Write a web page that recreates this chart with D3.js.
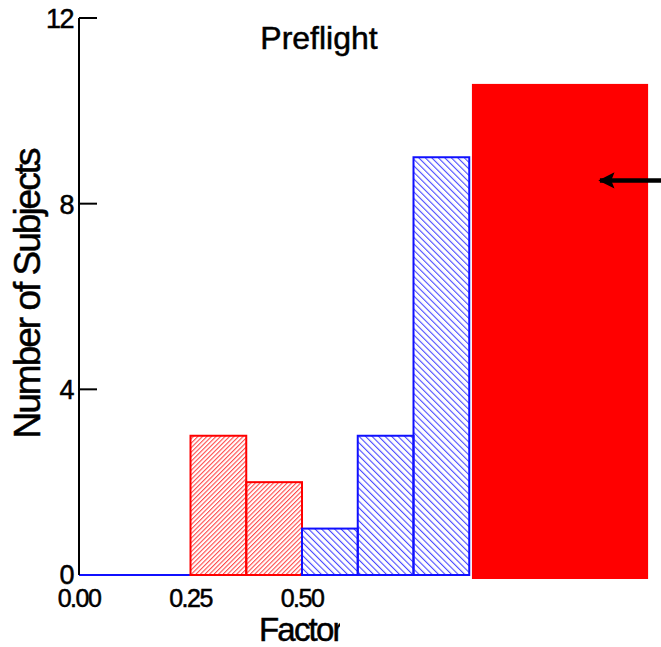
<!DOCTYPE html>
<html>
<head>
<meta charset="UTF-8" />
<title>Preflight</title>
<script src="https://d3js.org/d3.v7.min.js"></script>
<style>
  body { margin: 0; background: #fff; }
  text { font-family: "Liberation Sans", Arial, sans-serif; fill: #000; stroke: #000; stroke-width: 0.5px; }
</style>
</head>
<body>
<div id="chart"></div>
<script>
// histogram bins (left edge), counts and colour group
const binStarts = [0.25, 0.375, 0.5, 0.625, 0.75];
const counts = [3, 2, 1, 3, 9];
const groups = ["red", "red", "blue", "blue", "blue"];
const binWidth = 0.125;

const yTicks = [0, 4, 8, 12];
const xTicks = [0, 0.25, 0.5];

// redaction box and arrow, in data units
const boxX = [0.881, 1.276];
const boxY = [-0.086, 10.58];
const arrowX = [1.305, 1.168];
const arrowY = 8.5;

const W = 661, H = 647;

const x = d3.scaleLinear().domain([0, 0.5]).range([79, 302]);
const y = d3.scaleLinear().domain([0, 12]).range([575, 18]);

const svg = d3.select("#chart").append("svg")
  .attr("width", W)
  .attr("height", H);

const defs = svg.append("defs");

function hatch(id, color, size, angle) {
  const p = defs.append("pattern")
    .attr("id", id)
    .attr("patternUnits", "userSpaceOnUse")
    .attr("width", size)
    .attr("height", size)
    .attr("patternTransform", `rotate(${angle})`);
  p.append("line")
    .attr("x1", 0.5).attr("y1", 0)
    .attr("x2", 0.5).attr("y2", size)
    .attr("stroke", color)
    .attr("stroke-width", 1.2);
}
hatch("hatch-red", "#ff4a4a", 3.2, 45);
hatch("hatch-blue", "#4a4aff", 4.6, -45);

const strokeCol = { red: "#ff0000", blue: "#1010ff" };

// baseline of the histogram
svg.append("line")
  .attr("x1", x(0)).attr("x2", x(0.875))
  .attr("y1", y(0)).attr("y2", y(0))
  .attr("stroke", "#1010ff")
  .attr("stroke-width", 2);

// bars
svg.selectAll(".bar")
  .data(binStarts)
  .enter()
  .append("rect")
  .attr("class", "bar")
  .attr("x", d => x(d))
  .attr("width", d => x(d + binWidth) - x(d))
  .attr("y", (d, i) => y(counts[i]))
  .attr("height", (d, i) => y(0) - y(counts[i]))
  .attr("fill", (d, i) => `url(#hatch-${groups[i]})`)
  .attr("stroke", (d, i) => strokeCol[groups[i]])
  .attr("stroke-width", 2);

// y axis
svg.append("line")
  .attr("x1", x(0)).attr("x2", x(0))
  .attr("y1", y(12)).attr("y2", y(0))
  .attr("stroke", "#000")
  .attr("stroke-width", 2);

svg.selectAll(".ytick")
  .data(yTicks.filter(d => d > 0))
  .enter()
  .append("line")
  .attr("x1", x(0)).attr("x2", x(0) + 18)
  .attr("y1", d => y(d)).attr("y2", d => y(d))
  .attr("stroke", "#000")
  .attr("stroke-width", 2);

svg.selectAll(".ylab")
  .data(yTicks)
  .enter()
  .append("text")
  .attr("x", x(0) - 6)
  .attr("y", d => d === 0 ? y(d) + 9 : y(d) + 10)
  .attr("text-anchor", "end")
  .attr("font-size", 27)
  .attr("letter-spacing", -1.5)
  .text(d => d);

svg.selectAll(".xlab")
  .data(xTicks)
  .enter()
  .append("text")
  .attr("x", d => x(d))
  .attr("y", 607)
  .attr("text-anchor", "middle")
  .attr("font-size", 25)
  .attr("letter-spacing", -1.5)
  .text(d => d3.format(".2f")(d));

// axis titles
defs.append("clipPath").attr("id", "xclip")
  .append("rect").attr("x", 0).attr("y", 600).attr("width", 340).attr("height", 47);

svg.append("text")
  .attr("x", 259)
  .attr("y", 641)
  .attr("font-size", 33)
  .attr("letter-spacing", -1.8)
  .attr("clip-path", "url(#xclip)")
  .text("Factor");

svg.append("text")
  .attr("transform", "translate(40,294) rotate(-90)")
  .attr("text-anchor", "middle")
  .attr("font-size", 37)
  .attr("letter-spacing", -2)
  .text("Number of Subjects");

svg.append("text")
  .attr("x", 319)
  .attr("y", 49)
  .attr("text-anchor", "middle")
  .attr("font-size", 32)
  .text("Preflight");

// red box
svg.append("rect")
  .attr("x", x(boxX[0]))
  .attr("width", x(boxX[1]) - x(boxX[0]))
  .attr("y", y(boxY[1]))
  .attr("height", y(boxY[0]) - y(boxY[1]))
  .attr("fill", "#ff0000");

// arrow
defs.append("marker")
  .attr("id", "head")
  .attr("viewBox", "0 0 10 10")
  .attr("refX", 9).attr("refY", 5)
  .attr("markerWidth", 3.6).attr("markerHeight", 3.6)
  .attr("markerUnits", "strokeWidth")
  .attr("orient", "auto")
  .append("path")
  .attr("d", "M0,0 L10,5 L0,10 L2,5 Z")
  .attr("fill", "#000");

svg.append("line")
  .attr("x1", x(arrowX[0])).attr("y1", y(arrowY))
  .attr("x2", x(arrowX[1])).attr("y2", y(arrowY))
  .attr("stroke", "#000")
  .attr("stroke-width", 4.5)
  .attr("marker-end", "url(#head)");
</script>
</body>
</html>
